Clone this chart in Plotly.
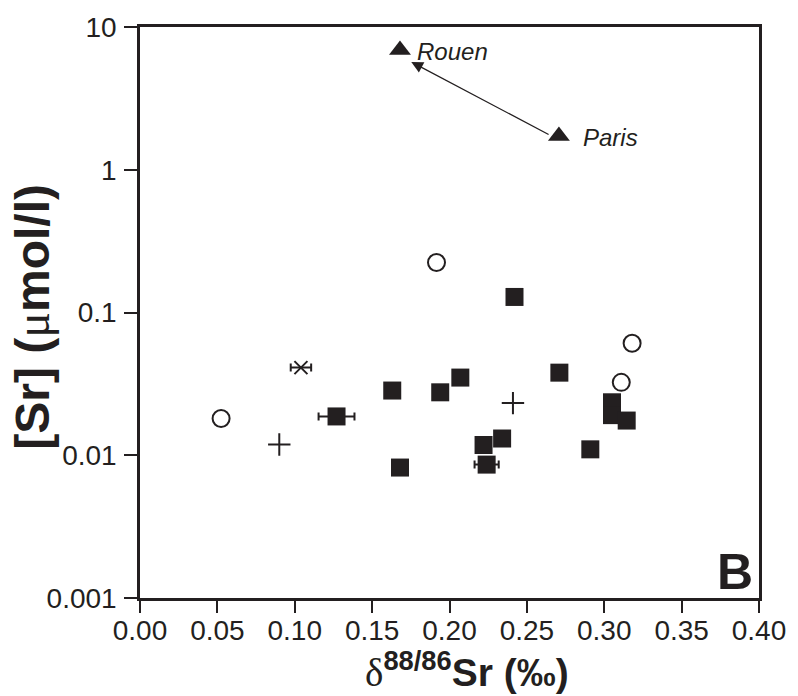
import plotly.graph_objects as go
import math

INK = "#231f20"
FONT = "Liberation Sans, Arial, sans-serif"

# Filled squares (samples)
sq_x = [0.127, 0.163, 0.194, 0.207, 0.168, 0.222, 0.234, 0.224, 0.242, 0.271, 0.305, 0.305, 0.3145, 0.291]
sq_y = [0.0187, 0.0284, 0.0276, 0.035, 0.0082, 0.0118, 0.0131, 0.0086, 0.1285, 0.0379, 0.0235, 0.0191, 0.0175, 0.011]
sq_err = [0.0116, 0, 0, 0, 0, 0, 0, 0.0078, 0, 0, 0, 0, 0, 0]

# Open circles
ci_x = [0.0524, 0.1916, 0.318, 0.311]
ci_y = [0.0181, 0.224, 0.0609, 0.0324]

# Plus signs
pl_x = [0.090, 0.241]
pl_y = [0.0119, 0.0232]

# X symbol with error bar
xx_x = [0.104]
xx_y = [0.0411]
xx_err = [0.0066]

# Triangles (Seine river)
tri_x = [0.168, 0.2707]
tri_y = [6.90, 1.723]
tri_names = ["Rouen", "Paris"]

# Arrow Paris -> Rouen
arrow_tail = (0.265, 1.743)
arrow_head = (0.1753, 5.69)

x_ticks = [0.00, 0.05, 0.10, 0.15, 0.20, 0.25, 0.30, 0.35, 0.40]
y_ticks = [0.001, 0.01, 0.1, 1, 10]
y_tick_text = ["0.001", "0.01", "0.1", "1", "10"]

x_title = "<span style='font-family:Liberation Serif'>δ</span><b><sup>88/86</sup>Sr (‰)</b>"
y_title = "<b>[Sr] (</b><span style='font-family:Liberation Serif'>μ</span><b>mol/l)</b>"

fig = go.Figure()

fig.add_trace(go.Scatter(
    x=sq_x, y=sq_y, mode="markers",
    marker=dict(symbol="square", size=18, color=INK, line=dict(width=0)),
    error_x=dict(type="data", array=sq_err, visible=True, color=INK, thickness=2, width=4),
    showlegend=False))

fig.add_trace(go.Scatter(
    x=ci_x, y=ci_y, mode="markers",
    marker=dict(symbol="circle-open", size=17, color=INK, line=dict(width=2)),
    showlegend=False))

fig.add_trace(go.Scatter(
    x=pl_x, y=pl_y, mode="markers",
    marker=dict(symbol="cross-thin-open", size=16, color=INK, line=dict(width=2, color=INK)),
    showlegend=False))

fig.add_trace(go.Scatter(
    x=xx_x, y=xx_y, mode="markers",
    marker=dict(symbol="x-thin-open", size=13, color=INK, line=dict(width=2, color=INK)),
    error_x=dict(type="data", array=xx_err, visible=True, color=INK, thickness=2, width=4),
    showlegend=False))

fig.add_trace(go.Scatter(
    x=tri_x, y=tri_y, mode="markers",
    marker=dict(symbol="triangle-up", size=19, color=INK, line=dict(width=0)),
    showlegend=False))

annotations = []
for tx, ty, name, xs in zip(tri_x, tri_y, tri_names, [15, 22]):
    annotations.append(dict(
        x=tx, y=math.log10(ty), xref="x", yref="y", text=name, showarrow=False,
        xanchor="left", yanchor="middle", xshift=xs, yshift=-1,
        font=dict(family=FONT, size=24, color=INK, style="italic")))

annotations.append(dict(
    x=arrow_head[0], y=math.log10(arrow_head[1]), xref="x", yref="y",
    ax=arrow_tail[0], ay=math.log10(arrow_tail[1]), axref="x", ayref="y",
    text="", showarrow=True, arrowhead=2, arrowsize=1.8, arrowwidth=1.3, arrowcolor=INK,
    standoff=0, startstandoff=0))

annotations.append(dict(
    x=0.961, y=0.045, xref="paper", yref="paper", text="<b>B</b>", showarrow=False,
    xanchor="center", yanchor="middle",
    font=dict(family=FONT, size=50, color=INK)))

# axis titles placed as annotations for exact positioning
annotations.append(dict(
    x=0.5285, y=-0.172, xref="paper", yref="paper", text=x_title, showarrow=False,
    xanchor="center", yanchor="bottom",
    font=dict(family=FONT, size=39, color=INK)))

annotations.append(dict(
    x=-0.175, y=0.492, xref="paper", yref="paper", text=y_title, showarrow=False,
    xanchor="center", yanchor="middle", textangle=-90,
    font=dict(family=FONT, size=48, color=INK)))

fig.update_layout(
    width=798, height=696,
    margin=dict(l=139.5, r=31.3, t=26.7, b=98.3),
    paper_bgcolor="white", plot_bgcolor="white",
    font=dict(family=FONT, color=INK),
    annotations=annotations,
)

fig.update_xaxes(
    range=[0, 0.4], tickvals=x_ticks, tickformat=".2f",
    showline=True, linewidth=2.5, linecolor=INK, mirror=True,
    ticks="outside", ticklen=12, tickwidth=2, tickcolor=INK,
    showgrid=False, zeroline=False,
    tickfont=dict(family=FONT, size=28, color=INK), ticklabelstandoff=-6,
)

fig.update_yaxes(
    type="log", range=[-3, 1], tickvals=y_ticks, ticktext=y_tick_text,
    showline=True, linewidth=2.5, linecolor=INK, mirror=True,
    ticks="outside", ticklen=13, tickwidth=2, tickcolor=INK,
    showgrid=False, zeroline=False,
    tickfont=dict(family=FONT, size=28, color=INK), ticklabelstandoff=2,
)

fig.write_html("out.html")
